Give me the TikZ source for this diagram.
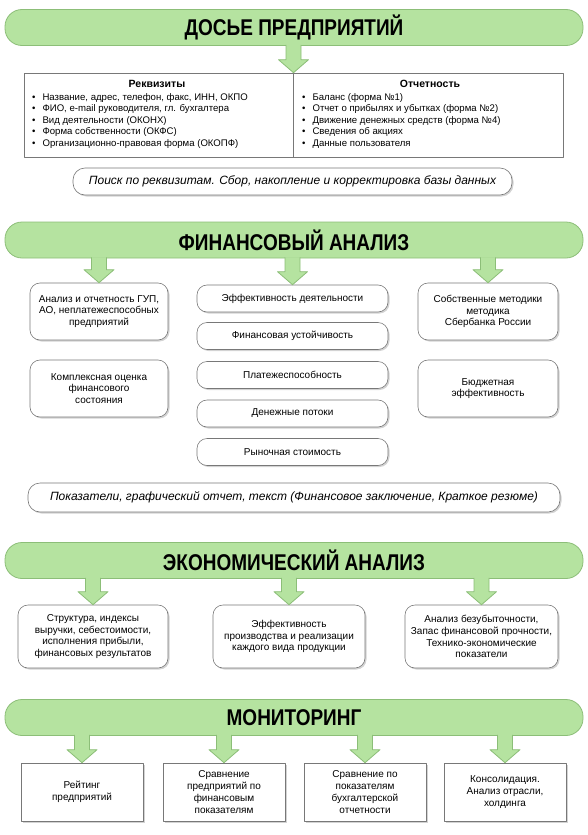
\documentclass[tikz,border=0pt]{standalone}
\usepackage{fontspec}
\usepackage{graphicx}
\setmainfont{Liberation Sans}
\usetikzlibrary{positioning,shadows,calc}

\definecolor{zel}{RGB}{181,227,160}
\definecolor{zelline}{RGB}{140,190,120}
\definecolor{ramka}{RGB}{120,120,120}

% зелёная стрелка от шапки к блоку
\newcommand{\greenarrow}[2]{%
  \path (#1.south -| #2.north) coordinate (st) (#2.north) coordinate (tip);
  \draw[arrowfill] ($(st)+(-7.5,-1)$) -- ($(tip)+(-7.5,-13)$) -- ($(tip)+(-15,-13)$) -- (tip)
      -- ($(tip)+(15,-13)$) -- ($(tip)+(7.5,-13)$) -- ($(st)+(7.5,-1)$);}

% вытянутый по вертикали заголовок
\newcommand{\titletext}[1]{\scalebox{1}[1.2]{#1}}

\begin{document}
\begin{tikzpicture}[
    x={(1pt,0pt)},
    y={(0pt,-1pt)},
    line join=round,
    banner/.style={draw=zelline, line width=0.8pt, fill=zel, rounded corners=17pt,
        minimum width=578pt, minimum height=36pt,
        font=\fontsize{19}{19}\selectfont\bfseries},
    arrowfill/.style={draw=zelline, line width=0.8pt, fill=zel},
    rbox/.style={draw=ramka, line width=0.6pt, fill=white, rounded corners=10pt,
        align=center, inner sep=2pt, font=\fontsize{10}{11.8}\selectfont,
        drop shadow={opacity=0.35, shadow xshift=1.5pt, shadow yshift=-1.5pt}},
    ibox/.style={rbox, rounded corners=12pt, font=\fontsize{12}{13}\selectfont\itshape},
    sbox/.style={rbox, rounded corners=0pt},
    listtext/.style={align=left, inner sep=0pt, font=\fontsize{9.6}{11.6}\selectfont}
]

\useasboundingbox (0,0) rectangle (588,835);

% =========================================================
% Досье предприятий
% =========================================================

\node[banner] (dos) at (294,27.5) {\titletext{ДОСЬЕ ПРЕДПРИЯТИЙ}};

\node[draw=ramka, line width=0.6pt, fill=white, minimum width=539pt, minimum height=84pt,
      inner sep=0pt] (doc) at (293.5,115) {};
\draw[ramka, line width=0.6pt] (doc.north) -- (doc.south);

\node[anchor=north, font=\fontsize{10.5}{12}\selectfont\bfseries] (rekv) at (157,77) {Реквизиты};
\node[anchor=north, font=\fontsize{10.5}{12}\selectfont\bfseries] (otch) at (430,77) {Отчетность};

\node[listtext, anchor=north west] (rekvlist) at (32,93) {%
    \textbullet\hspace{7pt}Название, адрес, телефон, факс, ИНН, ОКПО\\
    \textbullet\hspace{7pt}ФИО, e-mail руководителя, гл. бухгалтера\\
    \textbullet\hspace{7pt}Вид деятельности (ОКОНХ)\\
    \textbullet\hspace{7pt}Форма собственности (ОКФС)\\
    \textbullet\hspace{7pt}Организационно-правовая форма (ОКОПФ)};

\node[listtext, anchor=north west] (otchlist) at (302,93) {%
    \textbullet\hspace{7pt}Баланс (форма №1)\\
    \textbullet\hspace{7pt}Отчет о прибылях и убытках (форма №2)\\
    \textbullet\hspace{7pt}Движение денежных средств (форма №4)\\
    \textbullet\hspace{7pt}Сведения об акциях\\
    \textbullet\hspace{7pt}Данные пользователя};

\greenarrow{dos}{doc}

\node[ibox, minimum width=439pt, minimum height=27pt] (poisk) at (292.5,181.5)
    {Поиск по реквизитам. Сбор, накопление и корректировка базы данных};

% =========================================================
% Финансовый анализ
% =========================================================

\node[banner] (fin) at (294,240) {\titletext{ФИНАНСОВЫЙ АНАЛИЗ}};

\node[rbox, minimum width=138pt, minimum height=57pt] (finl1) at (99,311.5)
    {Анализ и отчетность ГУП,\\АО, неплатежеспособных\\предприятий};
\node[rbox, minimum width=138pt, minimum height=57pt] (finl2) at (99,388.5)
    {Комплексная оценка\\финансового\\состояния};

\node[rbox, minimum width=191pt, minimum height=27pt] (finm1) at (292.5,298.5) {Эффективность деятельности};
\node[rbox, minimum width=191pt, minimum height=27pt] (finm2) at (292.5,336)   {Финансовая устойчивость};
\node[rbox, minimum width=191pt, minimum height=27pt] (finm3) at (292.5,375)   {Платежеспособность};
\node[rbox, minimum width=191pt, minimum height=27pt] (finm4) at (292.5,413.5) {Денежные потоки};
\node[rbox, minimum width=191pt, minimum height=27pt] (finm5) at (292.5,452)   {Рыночная стоимость};

\node[rbox, minimum width=140pt, minimum height=57pt] (finr1) at (488,311.5)
    {Собственные методики\\методика\\Сбербанка России};
\node[rbox, minimum width=140pt, minimum height=57pt] (finr2) at (488,388.5)
    {Бюджетная\\эффективность};

\greenarrow{fin}{finl1}
\greenarrow{fin}{finm1}
\greenarrow{fin}{finr1}

\node[ibox, minimum width=532pt, minimum height=29pt] (itog) at (294,497.5)
    {Показатели, графический отчет, текст (Финансовое заключение, Краткое резюме)};

% =========================================================
% Экономический анализ
% =========================================================

\node[banner] (eko) at (294,560.5) {\titletext{ЭКОНОМИЧЕСКИЙ АНАЛИЗ}};

\node[rbox, minimum width=150pt, minimum height=63pt] (eko1) at (93,636.5)
    {Структура, индексы\\выручки, себестоимости,\\исполнения прибыли,\\финансовых результатов};
\node[rbox, minimum width=152pt, minimum height=63pt] (eko2) at (289,636.5)
    {Эффективность\\производства и реализации\\каждого вида продукции};
\node[rbox, minimum width=153pt, minimum height=63pt] (eko3) at (481.5,636.5)
    {Анализ безубыточности,\\Запас финансовой прочности,\\Технико-экономические\\показатели};

\greenarrow{eko}{eko1}
\greenarrow{eko}{eko2}
\greenarrow{eko}{eko3}

% =========================================================
% Мониторинг
% =========================================================

\node[banner] (mon) at (294,717.5) {\titletext{МОНИТОРИНГ}};

\node[sbox, minimum width=122pt, minimum height=58pt] (mon1) at (82,792)  {Рейтинг\\предприятий};
\node[sbox, minimum width=122pt, minimum height=58pt] (mon2) at (224,792) {Сравнение\\предприятий по\\финансовым\\показателям};
\node[sbox, minimum width=122pt, minimum height=58pt] (mon3) at (365,792) {Сравнение по\\показателям\\бухгалтерской\\отчетности};
\node[sbox, minimum width=122pt, minimum height=58pt] (mon4) at (505,792) {Консолидация.\\Анализ отрасли,\\холдинга};

\greenarrow{mon}{mon1}
\greenarrow{mon}{mon2}
\greenarrow{mon}{mon3}
\greenarrow{mon}{mon4}

\end{tikzpicture}
\end{document}
